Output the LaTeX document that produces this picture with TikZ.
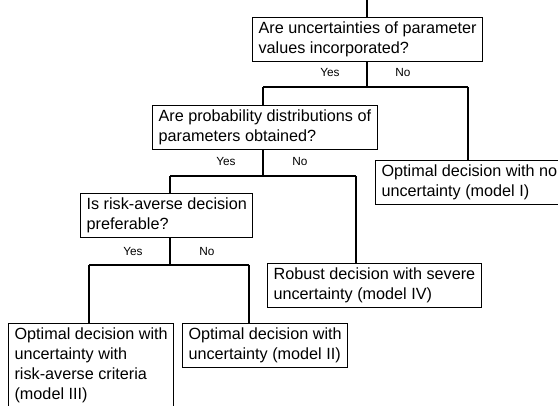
\documentclass[tikz,border=0pt]{standalone}
\usepackage{fontspec}
\setmainfont{Liberation Sans}
\usepackage{tikz}

\begin{document}
\begin{tikzpicture}[
  x=1pt, y=-1pt,
  box/.style={draw, line width=1.2pt, align=left, anchor=north west,
    inner xsep=6pt, inner ysep=4.5pt, font=\fontsize{16.2}{19.8}\selectfont},
  answer/.style={font=\fontsize{11.8}{13}\selectfont, inner sep=0pt},
  every path/.style={line width=1.2pt}
  ]
	\useasboundingbox (0,0) rectangle (558,406);

	\node[box] (q1) at (252,17) {Are uncertainties of parameter\\values incorporated?};
	\node[box] (q2) at (152,105) {Are probability distributions of\\parameters obtained?};
	\node[box] (q3) at (80,193) {Is risk-averse decision\\preferable?};

	\node[box] (m1) at (375,160) {Optimal decision with no\\uncertainty (model I)};
	\node[box] (m4) at (267,263) {Robust decision with severe\\uncertainty (model IV)};
	\node[box] (m3) at (8,323) {Optimal decision with\\uncertainty with\\risk-averse criteria\\(model III)};
	\node[box] (m2) at (182,323) {Optimal decision with\\uncertainty (model II)};

	\coordinate (in) at (367,0);
	\coordinate (j1) at (367,87);
	\coordinate (l1) at (263,87);
	\coordinate (r1) at (468,87);
	\coordinate (j2) at (263,176);
	\coordinate (l2) at (170,176);
	\coordinate (r2) at (356,176);
	\coordinate (j3) at (170,265);
	\coordinate (l3) at (89,265);
	\coordinate (r3) at (249,265);

	\draw (in) -- (in |- q1.north);
	\draw (j1 |- q1.south) -- (j1);
	\draw (l1) -- (r1);
	\draw (l1) -- (l1 |- q2.north);
	\draw (r1) -- (r1 |- m1.north);

	\draw (j2 |- q2.south) -- (j2);
	\draw (l2) -- (r2);
	\draw (l2) -- (l2 |- q3.north);
	\draw (r2) -- (r2 |- m4.north);

	\draw (j3 |- q3.south) -- (j3);
	\draw (l3) -- (r3);
	\draw (l3) -- (l3 |- m3.north);
	\draw (r3) -- (r3 |- m2.north);

	\node[answer] (y1) at (330,73) {Yes};
	\node[answer] (n1) at (403,73) {No};
	\node[answer] (y2) at (226,162) {Yes};
	\node[answer] (n2) at (300,162) {No};
	\node[answer] (y3) at (133,252) {Yes};
	\node[answer] (n3) at (207,252) {No};
\end{tikzpicture}
\end{document}
